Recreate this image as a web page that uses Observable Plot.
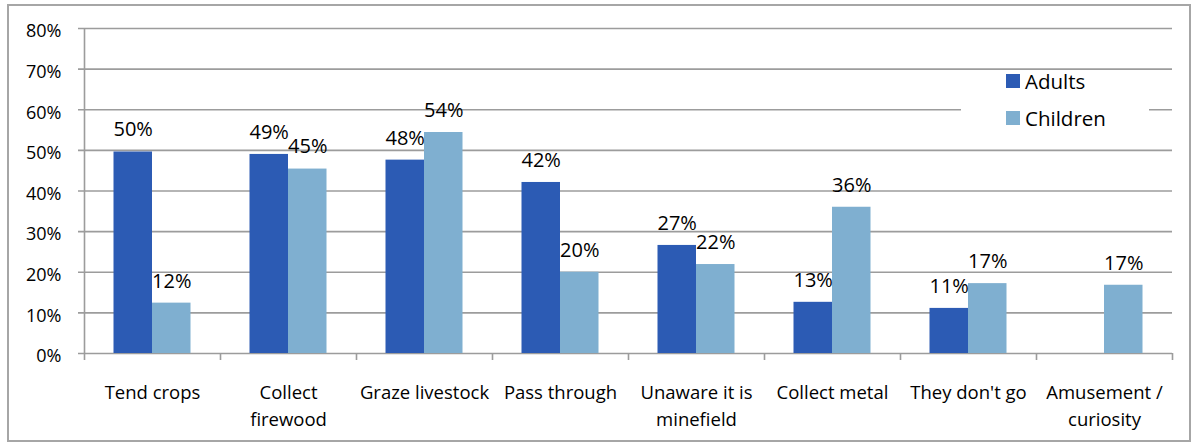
<!DOCTYPE html>
<html>
<head>
<meta charset="utf-8">
<script src="https://cdn.jsdelivr.net/npm/d3@7"></script>
<script src="https://cdn.jsdelivr.net/npm/@observablehq/plot@0.6"></script>
<style>
  html, body { margin: 0; padding: 0; background: #fff; }
  #wrap { position: relative; width: 1200px; height: 445px; font-family: "Open Sans", sans-serif; }
  #border { position: absolute; left: 7px; top: 4px; width: 1180px; height: 434px; border: 2px solid #a6a6a6; box-sizing: content-box; pointer-events: none; }
  #chart { position: absolute; left: 0; top: 0; }
  #legend { position: absolute; left: 961px; top: 73px; width: 188px; height: 72px; background: #fff; }
  .item { position: absolute; left: 45px; display: flex; align-items: center; font-size: 20.5px; color: #000; }
  .sw { width: 14px; height: 14px; margin-right: 5px; }
</style>
</head>
<body>
<div id="wrap">
  <div id="chart"></div>
  <div id="legend"></div>
  <div id="border"></div>
</div>
<script>
const categories = ["Tend crops", "Collect firewood", "Graze livestock", "Pass through", "Unaware it is minefield", "Collect metal", "They don't go", "Amusement / curiosity"];
const categoryLabels = ["Tend crops", "Collect\nfirewood", "Graze livestock", "Pass through", "Unaware it is\nminefield", "Collect metal", "They don't go", "Amusement /\ncuriosity"];
const seriesNames = ["Adults", "Children"];
const seriesColors = ["#2c5bb4", "#7fafd0"];
const adults = [49.6, 49.0, 47.6, 42.1, 26.6, 12.6, 11.1, null];
const children = [12.4, 45.4, 54.4, 20.0, 21.9, 36.0, 17.2, 16.8];
const yTicks = [0, 10, 20, 30, 40, 50, 60, 70, 80];

const adultRows = categories.map((c, i) => ({category: c, value: adults[i]})).filter(d => d.value != null);
const childRows = categories.map((c, i) => ({category: c, value: children[i]})).filter(d => d.value != null);

const chart = Plot.plot({
  width: 1200,
  height: 445,
  marginLeft: 84,
  marginRight: 28,
  marginTop: 28,
  marginBottom: 92,
  style: {fontFamily: "'Open Sans', sans-serif", background: "transparent", overflow: "visible", color: "#000"},
  x: {domain: categories, padding: 0, axis: null},
  y: {domain: [0, 80], axis: null},
  marks: [
    Plot.gridY(yTicks, {stroke: "#9c9c9c", strokeOpacity: 1, strokeWidth: 1.6, insetLeft: -6}),
    Plot.ruleX([categories[0]], {x: d => d, y1: () => 0, y2: () => 80, dx: -68, insetTop: 7, stroke: "#9c9c9c", strokeWidth: 1.6}),
    Plot.ruleX(categories, {x: d => d, y1: () => 0, y2: () => 0, dx: 68, insetTop: 7, stroke: "#9c9c9c", strokeWidth: 1.6}),
    Plot.barY(adultRows, {x: "category", y: "value", fill: seriesColors[0], insetLeft: 29.5, insetRight: 68}),
    Plot.barY(childRows, {x: "category", y: "value", fill: seriesColors[1], insetLeft: 68, insetRight: 29.5}),
    Plot.text(adultRows, {x: "category", y: "value", text: d => Math.round(d.value) + "%", dx: -19.3, dy: -22, fontSize: 20, fill: "#000"}),
    Plot.text(childRows, {x: "category", y: "value", text: d => Math.round(d.value) + "%", dx: 19.3, dy: -22, fontSize: 20, fill: "#000"}),
    Plot.text(yTicks, {y: d => d, text: d => d + "%", frameAnchor: "left", textAnchor: "end", dx: -23, dy: 3, fontSize: 18, fill: "#000"}),
    Plot.text(categories, {x: d => d, text: (d, i) => categoryLabels[i], frameAnchor: "bottom", lineAnchor: "top", dy: 27, fontSize: 18.5, lineHeight: 1.44, fill: "#000"})
  ]
});
document.getElementById("chart").appendChild(chart);

const legend = document.getElementById("legend");
seriesNames.forEach((name, i) => {
  const item = document.createElement("div");
  item.className = "item";
  item.style.top = (i === 0 ? -6 : 31) + "px";
  item.innerHTML = `<span class="sw" style="background:${seriesColors[i]}"></span><span>${name}</span>`;
  legend.appendChild(item);
});
</script>
</body>
</html>
